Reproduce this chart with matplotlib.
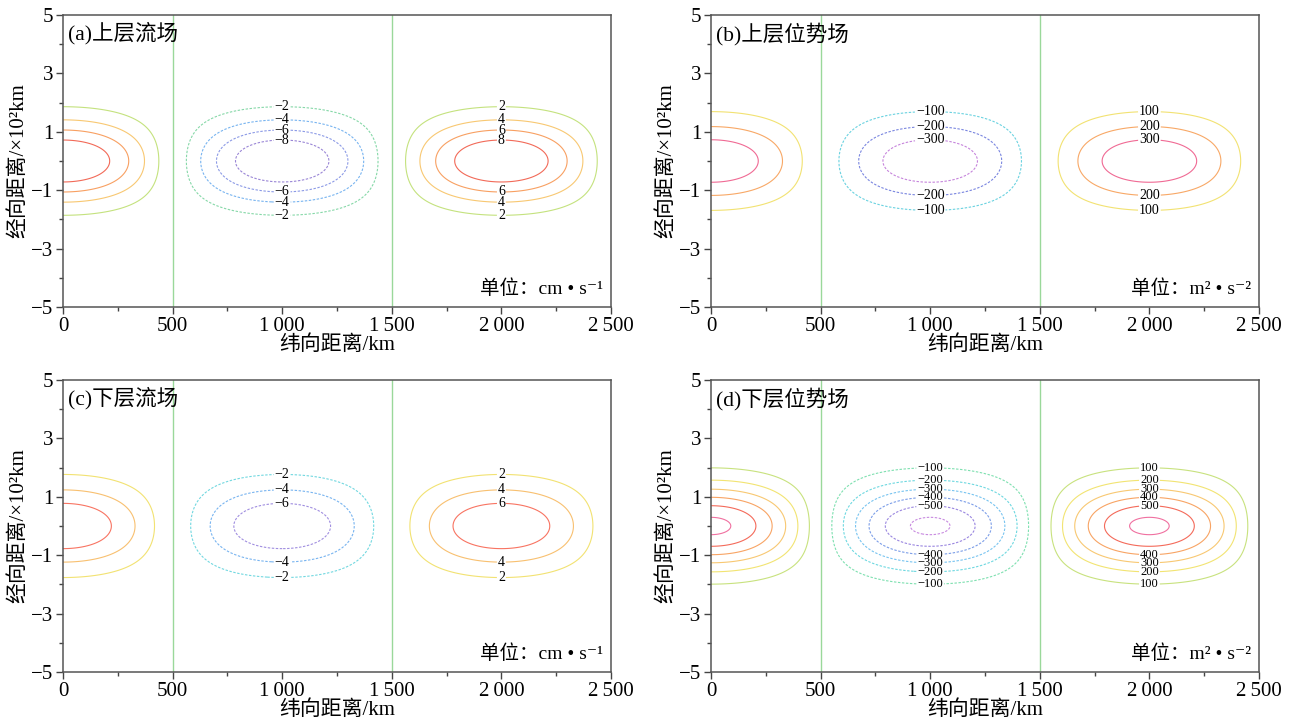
import numpy as np
import matplotlib
matplotlib.use('Agg')
import matplotlib.pyplot as plt
from matplotlib.ticker import MultipleLocator, FuncFormatter

plt.rcParams['font.family'] = ['Liberation Serif', 'Noto Sans CJK SC', 'DejaVu Sans']
plt.rcParams['axes.unicode_minus'] = True

# 网格 (纬向 km, 经向 10^2 km)
x_km = np.linspace(0, 2500, 626)
y_hkm = np.linspace(-5, 5, 401)

# 波长 (km) 和各子图扰动振幅/经向宽度
wavelength_km = 2000
panel_amp = [10.2, 385, 7.8, 625]
panel_width = [1.03, 1.03, 1.07, 1.04]

panel_titles = ['(a)上层流场', '(b)上层位势场', '(c)下层流场', '(d)下层位势场']
panel_units = ['单位：cm • s\u207b\u00b9', '单位：m\u00b2 • s\u207b\u00b2',
               '单位：cm • s\u207b\u00b9', '单位：m\u00b2 • s\u207b\u00b2']

panel_levels = [
    [-8, -6, -4, -2, 2, 4, 6, 8],
    [-300, -200, -100, 100, 200, 300],
    [-6, -4, -2, 2, 4, 6],
    [-600, -500, -400, -300, -200, -100, 100, 200, 300, 400, 500, 600],
]
# 标注到的最大等值线
panel_label_max = [8, 300, 6, 500]

panel_colors = [
    ['#9a86d6', '#8c9ae6', '#78b4f0', '#86d8a8', '#c4e27e', '#f8c872', '#f8a062', '#f26a58'],
    ['#c684dc', '#7a86e0', '#6ad2e0', '#f2e272', '#f8a866', '#f06a94'],
    ['#a08ee0', '#78b4f0', '#72d8e0', '#f2e272', '#f8c070', '#f87462'],
    ['#c88ae0', '#9a86e0', '#7c9ee8', '#78c4f0', '#6ed8e0', '#7ee0b0',
     '#c8e27e', '#f2e472', '#f8c872', '#f8a464', '#f46a5a', '#f070a0'],
]

feature_x = [1000, 2000]
feature_sign = [-1, 1]

positions = [
    [63 / 1292, 1 - 307 / 726, 548 / 1292, 292 / 726],
    [711 / 1292, 1 - 307 / 726, 548 / 1292, 292 / 726],
    [63 / 1292, 1 - 672 / 726, 548 / 1292, 292 / 726],
    [711 / 1292, 1 - 672 / 726, 548 / 1292, 292 / 726],
]


def xfmt(v, pos):
    v = int(round(v))
    if v >= 1000:
        return f'{v // 1000}\u2009{v % 1000:03d}'
    return f'{v}'


def yfmt(v, pos):
    return f'{int(round(v))}'.replace('-', '\u2212')


def lfmt(v):
    return f'{int(round(v))}'.replace('-', '\u2212')


fig = plt.figure(figsize=(12.92, 7.26), dpi=100)
X, Y = np.meshgrid(x_km, y_hkm)

for i in range(4):
    ax = fig.add_axes(positions[i])
    A = panel_amp[i]
    s = panel_width[i]
    Z = A * np.cos(2 * np.pi * X / wavelength_km) * np.exp(-Y ** 2 / (2 * s ** 2))
    levels = panel_levels[i]
    styles = [(0, (2.2, 1.4)) if v < 0 else 'solid' for v in levels]
    cs = ax.contour(X, Y, Z, levels=levels, colors=panel_colors[i],
                    linestyles=styles, linewidths=0.8)

    # 标注位置: 中间和右边系统的中心线上, 最内层只标上方
    manual = []
    for cx, sg in zip(feature_x, feature_sign):
        vals = [v for v in levels if v * sg > 0 and abs(v) <= panel_label_max[i]]
        for v in vals:
            yy = s * np.sqrt(2 * np.log(A / abs(v)))
            manual.append((cx, yy))
            if abs(v) != panel_label_max[i]:
                manual.append((cx, -yy))
    fs = 9 if i == 3 else 10
    ax.clabel(cs, inline=True, fontsize=fs, fmt=lfmt, manual=manual,
              inline_spacing=1, colors='k')

    ax.axvline(500, color='#9ad89a', lw=1.0)
    ax.axvline(1500, color='#9ad89a', lw=1.0)

    ax.set_xlim(0, 2500)
    ax.set_ylim(-5, 5)
    ax.xaxis.set_major_locator(MultipleLocator(500))
    ax.xaxis.set_minor_locator(MultipleLocator(250))
    ax.yaxis.set_major_locator(MultipleLocator(2, offset=1))
    ax.yaxis.set_minor_locator(MultipleLocator(1))
    ax.xaxis.set_major_formatter(FuncFormatter(xfmt))
    ax.yaxis.set_major_formatter(FuncFormatter(yfmt))
    ax.tick_params(axis='both', which='major', direction='out', length=5,
                   width=1, labelsize=15, color='#444444', pad=2)
    ax.tick_params(axis='both', which='minor', direction='out', length=3,
                   width=1, color='#444444')
    for sp in ax.spines.values():
        sp.set_color('#555555')
        sp.set_linewidth(1.1)

    ax.set_xlabel('纬向距离/km', fontsize=15, labelpad=0)
    ax.set_ylabel('经向距离/×10\u00b2km', fontsize=15, labelpad=2)

    ax.text(0.01, 0.975, panel_titles[i], transform=ax.transAxes,
            ha='left', va='top', fontsize=15.5)
    ax.text(0.985, 0.03, panel_units[i], transform=ax.transAxes,
            ha='right', va='bottom', fontsize=14)

plt.savefig('out.png', dpi=100)
